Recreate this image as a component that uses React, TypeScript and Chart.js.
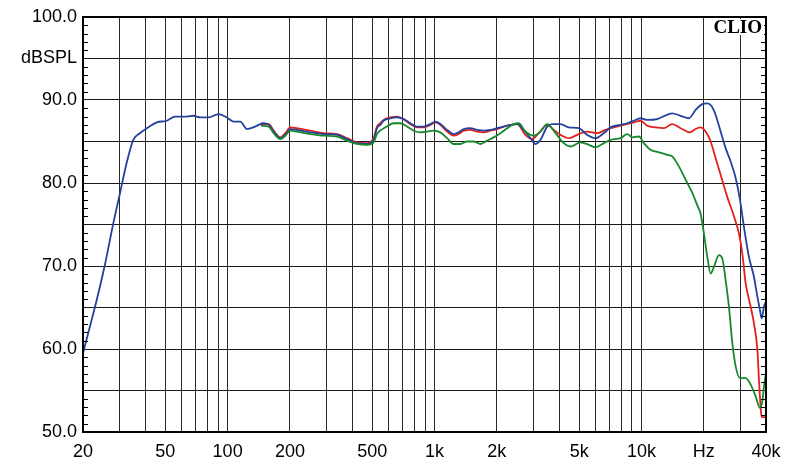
import React, { useEffect, useRef } from 'react';
import { Chart, registerables } from 'chart.js';

Chart.register(...registerables);

// ---- Data (frequency in Hz, level in dB SPL) ----
const blueFreq = [20, 21.6, 23.3, 25.6, 28, 30.2, 32.5, 35, 37.7, 40.7, 45.5, 50.8, 55.7, 63.5, 68.3, 73.6, 80.8, 90.3, 99, 106.7, 115, 124, 133, 141, 149, 158, 167, 180, 190, 201, 216, 251, 291, 338, 377, 422, 472, 508, 527, 547, 567, 611, 659, 709, 764, 823, 886, 955, 1009, 1067, 1150, 1238, 1308, 1383, 1491, 1606, 1728, 1862, 2007, 2160, 2328, 2508, 2698, 2908, 3076, 3251, 3503, 3704, 4062, 4455, 4980, 5468, 5998, 6580, 7091, 7926, 8538, 9192, 9906, 10672, 11930, 14096, 15462, 16962, 18276, 19690, 20816, 21770, 22830, 24140, 25520, 26990, 28540, 29940, 31300, 33080, 34980, 36340, 37400, 38110, 39100, 40000];
const blueDb = [59.5, 62.7, 65.9, 70.3, 75.1, 78.8, 82.4, 85.2, 86.0, 86.6, 87.3, 87.5, 88.0, 88.0, 88.1, 87.9, 87.9, 88.3, 87.9, 87.4, 87.4, 86.5, 86.7, 87.0, 87.2, 87.0, 86.2, 85.4, 85.8, 86.5, 86.4, 86.1, 85.9, 85.8, 85.3, 84.8, 84.7, 85.2, 86.6, 87.0, 87.5, 87.8, 87.9, 87.7, 87.2, 86.8, 86.8, 87.1, 87.4, 87.1, 86.4, 85.9, 86.1, 86.5, 86.6, 86.4, 86.3, 86.4, 86.6, 86.8, 87.0, 87.1, 86.4, 85.4, 84.7, 85.2, 86.8, 87.1, 87.1, 86.7, 86.6, 85.8, 85.4, 86.0, 86.7, 87.0, 87.2, 87.5, 87.8, 87.6, 87.7, 88.4, 88.1, 87.8, 88.8, 89.5, 89.6, 89.3, 88.2, 86.2, 84.2, 82.6, 80.6, 78.0, 74.7, 71.1, 68.7, 66.3, 64.7, 63.7, 65.1, 65.7];

const redFreq = [145, 158, 167, 180, 190, 201, 216, 251, 291, 338, 377, 422, 472, 508, 527, 547, 567, 611, 659, 709, 764, 823, 886, 955, 1009, 1067, 1150, 1238, 1308, 1383, 1491, 1606, 1728, 1862, 2007, 2160, 2328, 2508, 2750, 2964, 3190, 3503, 3771, 4062, 4455, 4980, 5468, 6113, 6706, 7355, 8222, 9192, 9906, 10672, 11706, 12836, 14096, 15462, 17152, 18276, 19322, 20424, 21600, 22830, 24140, 26010, 28000, 29610, 30740, 31900, 33720, 34980, 36340, 36980, 37700, 38110, 39850, 40000];
const redDb = [87.1, 87.1, 86.3, 85.5, 86.0, 86.7, 86.6, 86.3, 86.0, 85.9, 85.4, 84.9, 84.8, 85.4, 86.8, 87.2, 87.6, 87.9, 88.0, 87.7, 87.1, 86.7, 86.7, 87.0, 87.3, 87.0, 86.2, 85.7, 85.9, 86.3, 86.4, 86.2, 86.1, 86.3, 86.5, 86.8, 87.0, 87.1, 85.8, 85.3, 86.0, 87.0, 86.4, 85.8, 85.4, 85.9, 86.2, 86.0, 86.4, 86.7, 87.0, 87.3, 87.5, 86.9, 86.7, 86.6, 87.1, 86.6, 86.1, 86.5, 86.7, 86.2, 85.0, 83.0, 81.0, 78.3, 76.0, 73.9, 71.5, 67.9, 65.1, 63.1, 59.9, 56.3, 52.9, 51.8, 51.8, 53.0];

const greenFreq = [145, 158, 167, 180, 190, 201, 216, 251, 291, 338, 377, 422, 472, 508, 527, 589, 634, 684, 736, 793, 854, 920, 990, 1067, 1150, 1238, 1333, 1437, 1546, 1666, 1796, 1932, 2082, 2244, 2415, 2553, 2750, 3018, 3251, 3503, 3842, 4214, 4540, 5076, 5568, 5998, 6580, 7091, 7926, 8538, 9028, 9720, 10276, 11070, 12144, 13332, 14096, 15172, 16348, 17616, 18624, 19322, 20046, 20816, 21600, 22410, 23690, 24600, 25520, 26480, 27500, 28540, 29940, 31900, 33720, 35650, 37400, 38410, 39100, 40000];
const greenDb = [86.9, 86.8, 86.0, 85.3, 85.7, 86.3, 86.2, 85.9, 85.7, 85.6, 85.1, 84.7, 84.6, 84.9, 85.9, 86.8, 87.2, 87.2, 86.8, 86.3, 86.1, 86.2, 86.3, 86.1, 85.4, 84.7, 84.7, 85.0, 85.0, 84.7, 85.1, 85.5, 86.0, 86.6, 87.1, 87.2, 86.2, 85.7, 86.2, 87.1, 86.0, 84.8, 84.4, 84.9, 84.6, 84.3, 84.8, 85.2, 85.4, 85.9, 85.5, 85.6, 84.8, 84.0, 83.7, 83.4, 83.2, 82.0, 80.4, 78.8, 77.3, 76.3, 73.9, 71.1, 69.1, 69.9, 71.3, 70.9, 68.3, 65.1, 60.7, 57.9, 56.5, 56.5, 55.7, 54.3, 52.9, 53.7, 55.5, 57.1];

// ---- Axes / ticks ----
const xMin = 20;
const xMax = 40000;
const xGridValues = [20, 30, 40, 50, 60, 70, 80, 90, 100, 200, 300, 400, 500, 600, 700, 800, 900, 1000, 2000, 3000, 4000, 5000, 6000, 7000, 8000, 9000, 10000, 20000, 30000, 40000];
const xLabelValues = [20, 50, 100, 200, 500, 1000, 2000, 5000, 10000, 20000, 40000];
const xLabelTexts = ['20', '50', '100', '200', '500', '1k', '2k', '5k', '10k', 'Hz', '40k'];

const yMin = 50;
const yMax = 100;
const yGridValues = [50, 55, 60, 65, 70, 75, 80, 85, 90, 95, 100];
const yLabelTexts = ['50.0', '', '60.0', '', '70.0', '', '80.0', '', '90.0', 'dBSPL', '100.0'];

const toPoints = (fs: number[], ds: number[]) => fs.map((f, i) => ({ x: f, y: ds[i] }));

export default function App() {
  const ref = useRef<HTMLCanvasElement>(null);

  useEffect(() => {
    document.body.style.margin = '0';
    const canvas = ref.current;
    if (!canvas) return;

    const framePlugin = {
      id: 'clioFrame',
      afterDatasetsDraw(chart: any) {
        const { ctx, chartArea: a, scales } = chart;
        const ys = scales.y;
        ctx.save();
        // minor ticks (1 dB) inside on left and right
        ctx.strokeStyle = '#000';
        ctx.lineWidth = 1;
        ctx.beginPath();
        for (let v = yMin; v <= yMax; v++) {
          if (v % 5 === 0) continue;
          const py = Math.round(ys.getPixelForValue(v)) + 0.5;
          ctx.moveTo(a.left, py);
          ctx.lineTo(a.left + 5, py);
          ctx.moveTo(a.right - 5, py);
          ctx.lineTo(a.right, py);
        }
        ctx.stroke();
        // frame
        ctx.lineWidth = 2;
        ctx.strokeRect(a.left, a.top, a.right - a.left, a.bottom - a.top);
        // CLIO logo
        ctx.font = 'bold 19px "Liberation Serif", "DejaVu Serif", serif';
        ctx.textAlign = 'right';
        ctx.textBaseline = 'alphabetic';
        const tw = ctx.measureText('CLIO').width;
        ctx.fillStyle = '#fff';
        ctx.fillRect(a.right - 4 - tw - 2, a.top + 2, tw + 4, 16);
        ctx.fillStyle = '#000';
        ctx.fillText('CLIO', a.right - 4, a.top + 16);
        ctx.restore();
      },
    };

    const chart = new Chart(canvas, {
      type: 'line',
      data: {
        datasets: [
          {
            label: 'green',
            data: toPoints(greenFreq, greenDb),
            borderColor: '#18882c',
            borderWidth: 1.8,
            pointRadius: 0,
            cubicInterpolationMode: 'monotone',
            fill: false,
          },
          {
            label: 'blue',
            data: toPoints(blueFreq, blueDb),
            borderColor: '#22429c',
            borderWidth: 1.8,
            pointRadius: 0,
            cubicInterpolationMode: 'monotone',
            fill: false,
          },
          {
            label: 'red',
            data: toPoints(redFreq, redDb),
            borderColor: '#e4201c',
            borderWidth: 1.8,
            pointRadius: 0,
            cubicInterpolationMode: 'monotone',
            fill: false,
          },
        ],
      },
      options: {
        animation: false,
        responsive: false,
        devicePixelRatio: 1,
        layout: { padding: { top: 17, right: 34, left: 0, bottom: 0 } },
        plugins: {
          legend: { display: false },
          tooltip: { enabled: false },
        },
        scales: {
          x: {
            type: 'logarithmic',
            min: xMin,
            max: xMax,
            afterBuildTicks: (scale: any) => {
              scale.ticks = xGridValues.map((v) => ({ value: v }));
            },
            afterFit: (scale: any) => {
              scale.height = 41;
            },
            ticks: {
              autoSkip: false,
              maxRotation: 0,
              minRotation: 0,
              padding: 9,
              color: '#000',
              font: { family: '"Liberation Sans", Arial, sans-serif', size: 18 },
              callback: (value: any) => {
                const idx = xLabelValues.indexOf(Number(value));
                return idx >= 0 ? xLabelTexts[idx] : '';
              },
            },
            grid: { color: '#2a2a2a', lineWidth: 1, drawTicks: false },
            border: { display: false },
          },
          y: {
            type: 'linear',
            min: yMin,
            max: yMax,
            afterBuildTicks: (scale: any) => {
              scale.ticks = yGridValues.map((v) => ({ value: v }));
            },
            afterFit: (scale: any) => {
              scale.width = 83;
            },
            ticks: {
              autoSkip: false,
              padding: 6,
              color: '#000',
              font: { family: '"Liberation Sans", Arial, sans-serif', size: 18 },
              callback: (value: any) => {
                const idx = yGridValues.indexOf(Number(value));
                return idx >= 0 ? yLabelTexts[idx] : '';
              },
            },
            grid: { color: '#1a1a1a', lineWidth: 1, drawTicks: false },
            border: { display: false },
          },
        },
      },
      plugins: [framePlugin],
    } as any);

    return () => {
      chart.destroy();
    };
  }, []);

  return (
    <div style={{ position: 'absolute', left: 0, top: 0, width: 800, height: 473, background: '#fff' }}>
      <canvas ref={ref} width={800} height={473} style={{ display: 'block', width: 800, height: 473 }} />
    </div>
  );
}
